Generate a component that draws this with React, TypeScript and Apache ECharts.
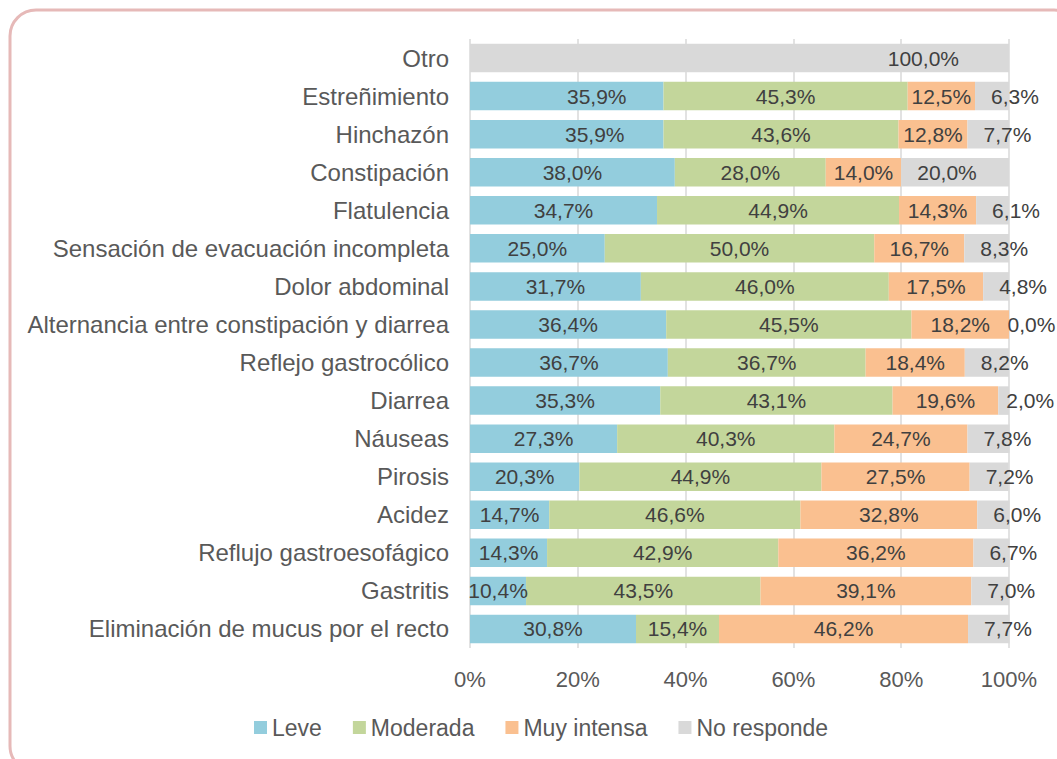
import React, { useEffect, useRef } from "react";
import * as echarts from "echarts";

const categories = [
  "Otro",
  "Estreñimiento",
  "Hinchazón",
  "Constipación",
  "Flatulencia",
  "Sensación de evacuación incompleta",
  "Dolor abdominal",
  "Alternancia entre constipación y diarrea",
  "Reflejo gastrocólico",
  "Diarrea",
  "Náuseas",
  "Pirosis",
  "Acidez",
  "Reflujo gastroesofágico",
  "Gastritis",
  "Eliminación de mucus por el recto",
];

const leve = [null, 35.9, 35.9, 38.0, 34.7, 25.0, 31.7, 36.4, 36.7, 35.3, 27.3, 20.3, 14.7, 14.3, 10.4, 30.8];
const moderada = [null, 45.3, 43.6, 28.0, 44.9, 50.0, 46.0, 45.5, 36.7, 43.1, 40.3, 44.9, 46.6, 42.9, 43.5, 15.4];
const muyIntensa = [null, 12.5, 12.8, 14.0, 14.3, 16.7, 17.5, 18.2, 18.4, 19.6, 24.7, 27.5, 32.8, 36.2, 39.1, 46.2];
const noResponde = [100.0, 6.3, 7.7, 20.0, 6.1, 8.3, 4.8, 0.0, 8.2, 2.0, 7.8, 7.2, 6.0, 6.7, 7.0, 7.7];

const seriesNames = ["Leve", "Moderada", "Muy intensa", "No responde"];
const tickLabels = ["0%", "20%", "40%", "60%", "80%", "100%"];

const colors = ["#93CDDD", "#C3D69B", "#FAC090", "#D9D9D9"];
const FONT = "Arial";

const fmt = (v: number) => v.toFixed(1).replace(".", ",") + "%";

// label placement quirks of the original (style only)
const leveLabelShift: Record<string, number> = { "Estreñimiento": 30, "Hinchazón": 28 };
const noRespLabelDistance: Record<string, number> = { "Alternancia entre constipación y diarrea": -2, "Diarrea": 8 };

export default function App() {
  const ref = useRef<HTMLDivElement>(null);
  useEffect(() => {
    if (!ref.current) return;
    const chart = echarts.init(ref.current, null, { renderer: "svg" });

    const baseLabel = {
      show: true,
      color: "#404040",
      fontSize: 21,
      fontFamily: FONT,
      formatter: (p: any) => (p.value == null ? "" : fmt(p.value)),
    };

    const leveData = leve.map((v, i) =>
      leveLabelShift[categories[i]] != null
        ? { value: v, label: { offset: [leveLabelShift[categories[i]], 0] } }
        : v
    );
    const noRespData = noResponde.map((v, i) => {
      const c = categories[i];
      if (c === "Otro") return { value: v, label: { position: "insideRight", distance: 50 } };
      if (noRespLabelDistance[c] != null) return { value: v, label: { distance: noRespLabelDistance[c] } };
      return v;
    });

    const dataSets = [leveData, moderada, muyIntensa, noRespData];

    chart.setOption({
      animation: false,
      color: colors,
      textStyle: { fontFamily: FONT },
      graphic: [
        {
          type: "rect",
          shape: { x: 10, y: 10, width: 1070, height: 762, r: 26 },
          style: { fill: "none", stroke: "#E6B9B8", lineWidth: 3 },
          z: 100,
        },
      ],
      grid: { left: 470, right: 48, top: 39, bottom: 111, containLabel: false },
      legend: {
        left: 249,
        top: 711,
        itemWidth: 13,
        itemHeight: 13,
        itemGap: 31,
        icon: "rect",
        textStyle: { color: "#595959", fontSize: 23, fontFamily: FONT },
        data: seriesNames,
      },
      xAxis: {
        type: "value",
        min: 0,
        max: 100,
        interval: 20,
        axisLine: { show: false },
        axisTick: { show: false },
        splitLine: { show: true, lineStyle: { color: "#D9D9D9", width: 1.5 } },
        axisLabel: {
          color: "#595959",
          fontSize: 22,
          fontFamily: FONT,
          margin: 20,
          formatter: (v: number) => tickLabels[Math.round(v / 20)],
        },
      },
      yAxis: {
        type: "category",
        inverse: true,
        data: categories,
        axisLine: { show: false },
        axisTick: { show: false },
        axisLabel: { color: "#595959", fontSize: 24, fontFamily: FONT, margin: 21 },
      },
      series: seriesNames.map((name, k) => ({
        name,
        type: "bar",
        stack: "total",
        barCategoryGap: "25%",
        clip: k !== 3,
        data: dataSets[k],
        itemStyle: { color: colors[k] },
        label:
          k === 3
            ? { ...baseLabel, position: "insideLeft", distance: 16 }
            : { ...baseLabel, position: "inside" },
      })),
    });
    return () => chart.dispose();
  }, []);

  return (
    <div
      ref={ref}
      style={{ position: "fixed", left: 0, top: 0, width: 1057, height: 759, background: "#fff" }}
    />
  );
}
